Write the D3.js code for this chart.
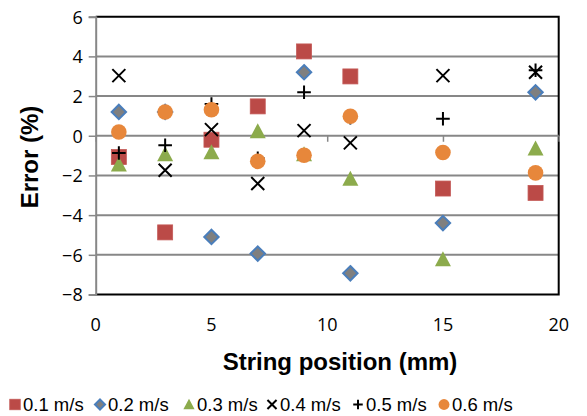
<!DOCTYPE html>
<html><head><meta charset="utf-8">
<script src="https://cdn.jsdelivr.net/npm/d3@7"></script>
<style>body{margin:0;background:#fff}svg{display:block}</style>
</head><body>
<svg id="c" width="587" height="416"></svg>
<script>
const positions = [1, 3, 5, 7, 9, 11, 15, 19];
const s01 = [-1.07, -4.87, -0.2, 1.48, 4.25, 2.99, -2.66, -2.88];
const s02 = [1.2, 1.2, -5.1, -5.94, 3.2, -6.93, -4.4, 2.19];
const s03 = [-1.46, -0.95, -0.85, 0.22, -0.95, -2.18, -6.24, -0.65];
const s04 = [3.03, -1.74, 0.31, -2.41, 0.26, -0.36, 3.03, 3.2];
const s05 = [-0.87, -0.48, 1.6, -1.13, 2.19, 0.91, 0.86, 3.3];
const s06 = [0.19, 1.2, 1.31, -1.29, -0.98, 0.98, -0.84, -1.87];
const seriesNames = ["0.1 m/s", "0.2 m/s", "0.3 m/s", "0.4 m/s", "0.5 m/s", "0.6 m/s"];
const xTicks = [0, 5, 10, 15, 20];
const yTicks = [-8, -6, -4, -2, 0, 2, 4, 6];

const allSeries = [s01, s02, s03, s04, s05, s06];
const shapes = ["square", "diamond", "triangle", "cross", "plus", "circle"];

const svg = d3.select("#c");
const L = 95.7, R = 558.7, T = 16.7, B = 294.5;
const x = d3.scaleLinear().domain([0, 20]).range([L, R]);
const y = d3.scaleLinear().domain([-8, 6]).range([B, T]);
const grid = "#878787";

// gridlines
svg.append("g").selectAll("line").data(yTicks.filter(v => v !== 0 && v !== -8 && v !== 6)).join("line")
  .attr("x1", L).attr("x2", R).attr("y1", d => y(d)).attr("y2", d => y(d))
  .attr("stroke", grid).attr("stroke-width", 2);

// border (top, right, bottom black)
svg.append("path").attr("d", `M${L},${T}H${R}V${B}H${L}`).attr("fill", "none")
  .attr("stroke", "#000").attr("stroke-width", 2);

// y axis
const yAxis = d3.axisLeft(y).tickValues(yTicks).tickSize(7).tickFormat(d3.format("d"));
const gy = svg.append("g").attr("transform", `translate(${L},0)`).call(yAxis);
gy.select(".domain").attr("stroke", grid).attr("stroke-width", 2);
gy.selectAll(".tick line").attr("stroke", grid).attr("stroke-width", 1.5);
gy.selectAll(".tick text").attr("x", -13).attr("dy", "0.36em")
  .style("font-family", "'Open Sans', sans-serif").style("font-size", "18px").attr("fill", "#000");

// x axis at y = 0
const xAxis = d3.axisBottom(x).tickValues(xTicks).tickSize(6).tickFormat("");
const gx = svg.append("g").attr("transform", `translate(0,${y(0)})`).call(xAxis);
gx.select(".domain").attr("stroke", grid).attr("stroke-width", 2).attr("d", `M${L},0H${R}`);
gx.selectAll(".tick line").attr("stroke", grid).attr("stroke-width", 1.5);

// x tick labels at bottom
svg.append("g").selectAll("text").data(xTicks).join("text")
  .attr("x", d => x(d)).attr("y", 331).attr("text-anchor", "middle")
  .style("font-family", "'Open Sans', sans-serif").style("font-size", "18px").text(d => d);

// titles
svg.append("text").attr("x", 340).attr("y", 370).attr("text-anchor", "middle")
  .style("font-family", "'Liberation Sans', Arial, sans-serif").style("font-weight", "bold").style("font-size", "24px")
  .text("String position (mm)");
svg.append("text").attr("transform", "translate(38,157) rotate(-90)").attr("text-anchor", "middle")
  .style("font-family", "'Liberation Sans', Arial, sans-serif").style("font-weight", "bold").style("font-size", "24px")
  .text("Error (%)");

function drawMarker(g, shape, cx, cy, scale) {
  const k = scale || 1;
  if (shape === "square") {
    g.append("rect").attr("x", cx - 7.5 * k).attr("y", cy - 7.5 * k).attr("width", 15 * k).attr("height", 15 * k)
      .attr("fill", "#bb4a47").attr("stroke", "#c45a57").attr("stroke-width", 0.8);
  } else if (shape === "diamond") {
    const r = 7.2 * k;
    g.append("path").attr("d", `M${cx},${cy - r}L${cx + r},${cy}L${cx},${cy + r}L${cx - r},${cy}Z`)
      .attr("fill", "#7f7f7f").attr("stroke", "#4a7ebb").attr("stroke-width", 2);
  } else if (shape === "triangle") {
    const w = 8 * k, h = 15 * k;
    g.append("path").attr("d", `M${cx},${cy - h * 0.55}L${cx + w},${cy + h * 0.45}L${cx - w},${cy + h * 0.45}Z`)
      .attr("fill", "#8cab4c");
  } else if (shape === "cross") {
    const r = 6.5 * k;
    g.append("path").attr("d", `M${cx - r},${cy - r}L${cx + r},${cy + r}M${cx + r},${cy - r}L${cx - r},${cy + r}`)
      .attr("stroke", "#000").attr("stroke-width", 2).attr("fill", "none");
  } else if (shape === "plus") {
    const r = 6.8 * k;
    g.append("path").attr("d", `M${cx - r},${cy}H${cx + r}M${cx},${cy - r}V${cy + r}`)
      .attr("stroke", "#000").attr("stroke-width", 2).attr("fill", "none");
  } else if (shape === "circle") {
    g.append("circle").attr("cx", cx).attr("cy", cy).attr("r", 7.8 * k).attr("fill", "#e7873b");
  }
}

const pts = svg.append("g");
allSeries.forEach((vals, si) => {
  const g = pts.append("g");
  vals.forEach((v, i) => drawMarker(g, shapes[si], x(positions[i]), y(v)));
});

// legend
const legX = [15, 100, 189, 272, 358, 444];
const lg = svg.append("g");
seriesNames.forEach((n, i) => {
  drawMarker(lg, shapes[i], legX[i], 404.5, 0.7);
  lg.append("text").attr("x", legX[i] + 8).attr("y", 411)
    .style("font-family", "'Liberation Sans', Arial, sans-serif").style("font-size", "18.5px").text(n);
});
</script>
</body></html>
